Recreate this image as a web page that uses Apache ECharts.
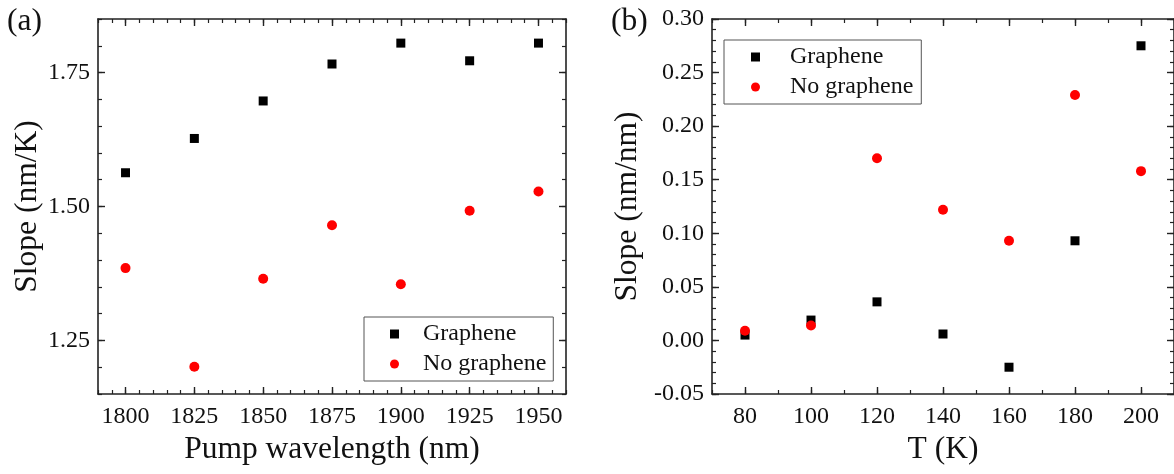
<!DOCTYPE html>
<html>
<head>
<meta charset="utf-8">
<script src="https://cdn.jsdelivr.net/npm/echarts@6/dist/echarts.min.js"></script>
<style>
  html, body { margin: 0; padding: 0; background: #fff; }
  #chart { width: 1174px; height: 474px; }
</style>
</head>
<body>
<div id="chart"></div>
<script>
// panel (a): slope vs pump wavelength
const wavelength = [1800, 1825, 1850, 1875, 1900, 1925, 1950]
const grapheneA = [1.563, 1.627, 1.697, 1.766, 1.805, 1.772, 1.805]
const noGrapheneA = [1.385, 1.201, 1.365, 1.465, 1.355, 1.492, 1.528]
const wavelengthTicks = [1800, 1825, 1850, 1875, 1900, 1925, 1950]
const slopeTicksA = [1.25, 1.5, 1.75]

// panel (b): slope vs temperature
const temperature = [80, 100, 120, 140, 160, 180, 200]
const grapheneB = [0.005, 0.019, 0.036, 0.006, -0.025, 0.093, 0.275]
const noGrapheneB = [0.009, 0.014, 0.170, 0.122, 0.093, 0.229, 0.158]
const temperatureTicks = [80, 100, 120, 140, 160, 180, 200]
const slopeTicksB = [-0.05, 0, 0.05, 0.1, 0.15, 0.2, 0.25, 0.3]

const FONT = 'Liberation Serif'
const AXIS_COLOR = '#222'

// one side of a frame: a labelled/major axis plus a minor-tick axis on top of it
function side(gridIndex, position, min, max, step, majors, label) {
  const line = { color: AXIS_COLOR, width: 1.6 }
  const major = {
    type: 'value',
    gridIndex,
    position,
    min,
    max,
    axisLine: { show: true, onZero: false, lineStyle: line },
    axisTick: { show: true, inside: true, length: 7, customValues: majors, lineStyle: { color: AXIS_COLOR, width: 1.4 } },
    axisLabel: label
      ? Object.assign({ show: true, customValues: majors, color: '#111', fontSize: 24, fontFamily: FONT }, label)
      : { show: false },
    splitLine: { show: false },
  }
  const minor = {
    type: 'value',
    gridIndex,
    position,
    min,
    max,
    interval: step,
    axisLine: { show: false, onZero: false },
    axisTick: { show: true, inside: true, length: 4, lineStyle: { color: AXIS_COLOR, width: 1.2 } },
    axisLabel: { show: false },
    splitLine: { show: false },
  }
  return [major, minor]
}

const nameStyle = { fontSize: 31.5, fontFamily: FONT, color: '#111' }
const fix2 = v => v.toFixed(2)
const plain = v => String(v)

// x axes: 0 bottom(a) 1 minor, 2 top(a) 3 minor, 4 bottom(b) 5 minor, 6 top(b) 7 minor
const xAxes = [
  ...side(0, 'bottom', 1790, 1960, 5, wavelengthTicks, { margin: 11, formatter: plain }),
  ...side(0, 'top', 1790, 1960, 5, wavelengthTicks, null),
  ...side(1, 'bottom', 70, 210, 10, temperatureTicks, { margin: 11, formatter: plain }),
  ...side(1, 'top', 70, 210, 10, temperatureTicks, null),
]
Object.assign(xAxes[0], { name: 'Pump wavelength (nm)', nameLocation: 'middle', nameGap: 38, nameTextStyle: nameStyle })
Object.assign(xAxes[4], { name: 'T (K)', nameLocation: 'middle', nameGap: 38, nameTextStyle: nameStyle })

const yAxes = [
  ...side(0, 'left', 1.15, 1.85, 0.05, slopeTicksA, { margin: 8, formatter: fix2 }),
  ...side(0, 'right', 1.15, 1.85, 0.05, slopeTicksA, null),
  ...side(1, 'left', -0.05, 0.30, 0.01, slopeTicksB, { margin: 8, formatter: fix2 }),
  ...side(1, 'right', -0.05, 0.30, 0.01, slopeTicksB, null),
]
Object.assign(yAxes[0], { name: 'Slope (nm/K)', nameLocation: 'middle', nameGap: 54, nameTextStyle: nameStyle })
Object.assign(yAxes[4], { name: 'Slope (nm/nm)', nameLocation: 'middle', nameGap: 68, nameTextStyle: nameStyle })

const pairs = (xs, ys) => xs.map((x, i) => [x, ys[i]])

const legendBase = {
  orient: 'vertical',
  itemWidth: 9,
  itemHeight: 9,
  itemGap: 6,
  borderColor: '#555',
  borderWidth: 1,
  selectedMode: false,
  data: ['Graphene', 'No graphene'],
}

const squareStyle = { color: '#000', opacity: 1 }
const dotStyle = { color: '#ff0000', opacity: 1 }

const chart = echarts.init(document.getElementById('chart'))
chart.setOption({
  animation: false,
  backgroundColor: '#fff',
  textStyle: { fontFamily: FONT },
  grid: [
    { left: 98, top: 19, width: 468, height: 375 },
    { left: 712, top: 19, width: 467, height: 375 },
  ],
  xAxis: xAxes,
  yAxis: yAxes,
  legend: [
    Object.assign({}, legendBase, {
      left: 364, top: 317, padding: [5, 7, 5, 26],
      textStyle: { fontSize: 24, lineHeight: 24, fontFamily: FONT, color: '#111', padding: [0, 0, 0, 19] },
    }),
    Object.assign({}, legendBase, {
      left: 724, top: 40, padding: [5, 8, 5, 27],
      textStyle: { fontSize: 24, lineHeight: 24, fontFamily: FONT, color: '#111', padding: [0, 0, 0, 25] },
    }),
  ],
  graphic: [
    { type: 'text', left: 7, top: 6, style: { text: '(a)', fontSize: 31.5, fontFamily: FONT, fill: '#111' } },
    { type: 'text', left: 611, top: 6, style: { text: '(b)', fontSize: 31.5, fontFamily: FONT, fill: '#111' } },
  ],
  series: [
    { name: 'Graphene', type: 'scatter', xAxisIndex: 0, yAxisIndex: 0, symbol: 'rect', symbolSize: 9, itemStyle: squareStyle, data: pairs(wavelength, grapheneA) },
    { name: 'No graphene', type: 'scatter', xAxisIndex: 0, yAxisIndex: 0, symbol: 'circle', symbolSize: 10, itemStyle: dotStyle, data: pairs(wavelength, noGrapheneA) },
    { name: 'Graphene', type: 'scatter', xAxisIndex: 4, yAxisIndex: 4, symbol: 'rect', symbolSize: 9, itemStyle: squareStyle, data: pairs(temperature, grapheneB) },
    { name: 'No graphene', type: 'scatter', xAxisIndex: 4, yAxisIndex: 4, symbol: 'circle', symbolSize: 10, itemStyle: dotStyle, data: pairs(temperature, noGrapheneB) },
  ],
})
window.addEventListener('resize', () => chart.resize())
</script>
</body>
</html>
